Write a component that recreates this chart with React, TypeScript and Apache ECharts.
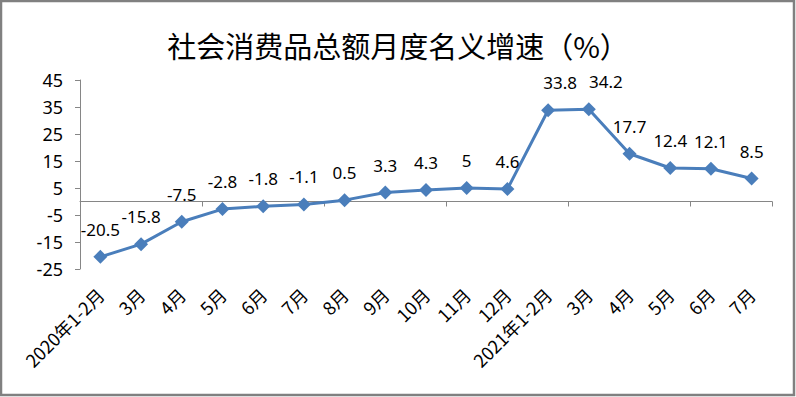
import React, { useEffect, useRef } from "react";
import * as echarts from "echarts";

const categories = ["2020年1-2月", "3月", "4月", "5月", "6月", "7月", "8月", "9月", "10月", "11月", "12月", "2021年1-2月", "3月", "4月", "5月", "6月", "7月"];
const growth = [-20.5, -15.8, -7.5, -2.8, -1.8, -1.1, 0.5, 3.3, 4.3, 5, 4.6, 33.8, 34.2, 17.7, 12.4, 12.1, 8.5];
const yTicks = [-25, -15, -5, 5, 15, 25, 35, 45];
const titleText = "社会消费品总额月度名义增速（%）";

export default function App() {
  const ref = useRef<HTMLDivElement>(null);
  useEffect(() => {
    if (!ref.current) return;
    const chart = echarts.init(ref.current, null, { renderer: "svg" });
    const labelOffsets: Record<number, number[]> = { 11: [12, 0], 12: [17, 0] };
    chart.setOption({
      animation: false,
      backgroundColor: "#ffffff",
      title: {
        text: titleText,
        left: "center",
        top: 25,
        textStyle: { fontFamily: "Noto Sans CJK SC", fontSize: 29, fontWeight: "normal", color: "#000" },
      },
      graphic: [
        {
          type: "rect",
          shape: { x: 1, y: 1, width: 793, height: 394 },
          style: { fill: "none", stroke: "#808080", lineWidth: 2.5 },
          silent: true,
        },
      ],
      grid: { left: 80, right: 24, top: 80, bottom: 128, containLabel: false },
      xAxis: [
        {
          type: "category",
          data: categories,
          boundaryGap: true,
          axisLine: { onZero: true, lineStyle: { color: "#868686", width: 1 } },
          axisTick: { show: true, inside: false, length: 5, lineStyle: { color: "#868686" } },
          axisLabel: { show: false },
        },
        {
          type: "category",
          data: categories,
          position: "bottom",
          boundaryGap: true,
          axisLine: { show: false, onZero: false },
          axisTick: { show: false },
          axisLabel: {
            interval: 0,
            rotate: 45,
            margin: 22,
            fontFamily: "Noto Sans CJK SC",
            fontSize: 18,
            color: "#000",
          },
        },
      ],
      yAxis: {
        type: "value",
        min: -25,
        max: 45,
        interval: 10,
        axisLine: { show: true, lineStyle: { color: "#868686" } },
        axisTick: { show: true, length: 5, customValues: yTicks, lineStyle: { color: "#868686" } },
        splitLine: { show: false },
        axisLabel: {
          customValues: yTicks,
          margin: 17,
          fontFamily: "Noto Sans",
          fontSize: 18,
          color: "#000",
        },
      },
      series: [
        {
          type: "line",
          xAxisIndex: 0,
          data: growth.map((v, i) =>
            labelOffsets[i] ? { value: v, label: { offset: labelOffsets[i] } } : v
          ),
          symbol: "diamond",
          symbolSize: 14,
          lineStyle: { color: "#4a7ebb", width: 3 },
          itemStyle: { color: "#4a7ebb" },
          label: {
            show: true,
            position: "top",
            distance: 12,
            fontFamily: "Noto Sans",
            fontSize: 17,
            color: "#000",
          },
        },
      ],
    });
    return () => chart.dispose();
  }, []);
  return <div ref={ref} style={{ position: "fixed", left: 0, top: 0, width: 796, height: 397 }} />;
}
